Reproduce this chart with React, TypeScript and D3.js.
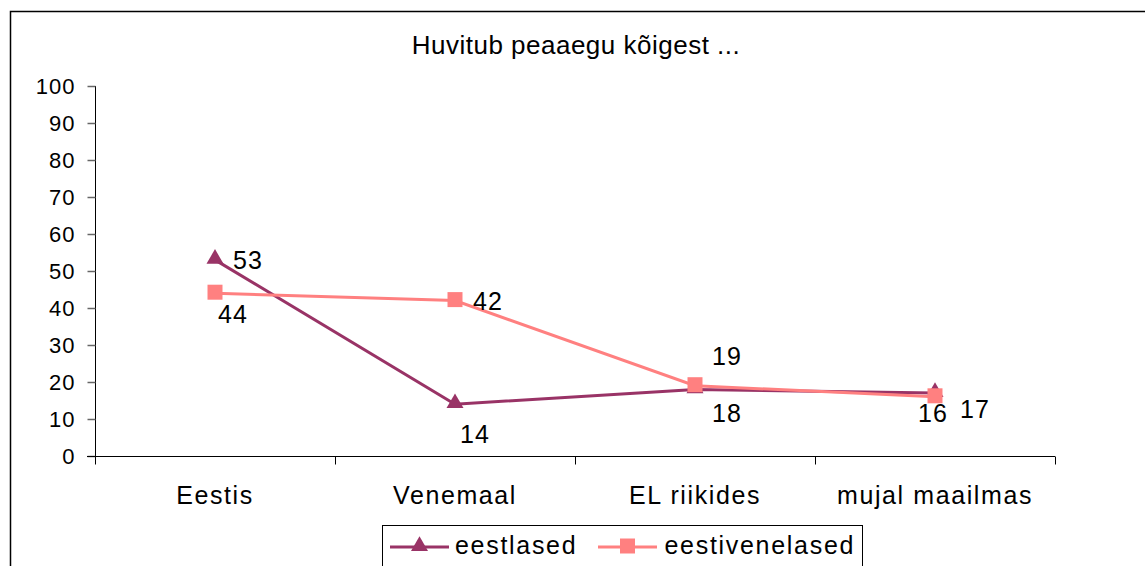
import React, { useRef, useEffect } from "react";
import * as d3 from "d3";

const categories = ["Eestis", "Venemaal", "EL riikides", "mujal maailmas"];
const seriesNames = ["eestlased", "eestivenelased"];
const eestlased = [53, 14, 18, 17];
const eestivenelased = [44, 42, 19, 16];
const yTicks = [0, 10, 20, 30, 40, 50, 60, 70, 80, 90, 100];
const title = "Huvitub peaaegu kõigest ...";

// where each value label sits relative to its point
const eestlasedLabelPos = ["right", "below", "belowRight", "farRight"];
const eestivenelasedLabelPos = ["belowNear", "right", "aboveRight", "belowLeft"];

const FONT = "'Liberation Sans', Arial, sans-serif";
const colors = ["#993366", "#FF8080"];

const App = () => {
	const ref = useRef(null);

	useEffect(() => {
		const svg = d3.select(ref.current);
		svg.selectAll("*").remove();

		const margin = { left: 95, right: 90, top: 85, bottom: 110 };
		const width = 1145,
			height = 566;

		// outer frame (runs past the right and bottom edges)
		svg.append("path")
			.attr("d", `M10.5,${height + 5} V11.5 H${width + 5}`)
			.attr("fill", "none")
			.attr("stroke", "#000")
			.attr("stroke-width", 1.5);

		svg.append("text")
			.attr("x", 576)
			.attr("y", 54)
			.attr("text-anchor", "middle")
			.style("font-family", FONT)
			.style("font-size", "26px")
			.style("letter-spacing", "0.5px")
			.text(title);

		const x = d3
			.scaleBand()
			.domain(categories)
			.range([margin.left, width - margin.right]);
		const y = d3
			.scaleLinear()
			.domain([0, 100])
			.range([height - margin.bottom, margin.top + 1]);

		const yAxis = svg
			.append("g")
			.attr("transform", `translate(${margin.left + 0.5},0)`)
			.call(d3.axisLeft(y).tickValues(yTicks).tickSize(8).tickPadding(12));
		yAxis.select(".domain").attr("stroke", "#000").attr("d", `M0,${y(100)}V${y(0)}`);
		yAxis.selectAll(".tick line").attr("stroke", "#666").attr("stroke-width", 1.5);
		yAxis
			.selectAll(".tick text")
			.attr("dy", "0.33em")
			.style("font-family", FONT)
			.style("font-size", "22px")
			.style("letter-spacing", "1px")
			.attr("fill", "#000");

		const xAxis = svg
			.append("g")
			.attr("transform", `translate(0,${y(0) + 0.5})`);
		xAxis.append("line")
			.attr("x1", margin.left - 8)
			.attr("x2", width - margin.right)
			.attr("stroke", "#000");
		const bounds = categories.map((c) => x(c)).concat([x.range()[1]]);
		xAxis.selectAll(".xt")
			.data(bounds)
			.join("line")
			.attr("x1", (d) => Math.round(d) + 0.5)
			.attr("x2", (d) => Math.round(d) + 0.5)
			.attr("y1", 0)
			.attr("y2", 8)
			.attr("stroke", "#000");
		xAxis.selectAll(".xl")
			.data(categories)
			.join("text")
			.attr("x", (d) => x(d) + x.bandwidth() / 2)
			.attr("y", 47)
			.attr("text-anchor", "middle")
			.style("font-family", FONT)
			.style("font-size", "25px")
			.style("letter-spacing", "1.6px")
			.text((d) => d);

		const cx = (i) => x(categories[i]) + x.bandwidth() / 2;
		const line = d3
			.line()
			.x((d, i) => cx(i))
			.y((d) => y(d));

		const offsets = {
			right: [18, 9],
			farRight: [25, 25],
			below: [5, 39],
			belowNear: [3, 30],
			belowRight: [17, 33],
			belowLeft: [-17, 25],
			aboveRight: [17, -21],
		};

		const triangle = d3.symbol().type(d3.symbolTriangle).size(125);
		const square = "M-7.5,-7.5H7.5V7.5H-7.5Z";
		const drawSeries = (vals, k, pos) => {
			const g = svg.append("g");
			g.append("path")
				.attr("d", line(vals))
				.attr("fill", "none")
				.attr("stroke", colors[k])
				.attr("stroke-width", 3);
			g.selectAll(".m")
				.data(vals)
				.join("path")
				.attr("transform", (d, i) => `translate(${cx(i)},${y(d) - 1})`)
				.attr("d", k === 0 ? triangle() : square)
				.attr("fill", colors[k]);
			g.selectAll(".l")
				.data(vals)
				.join("text")
				.attr("x", (d, i) => cx(i) + offsets[pos[i]][0])
				.attr("y", (d, i) => y(d) + offsets[pos[i]][1])
				.style("font-family", FONT)
				.style("font-size", "25px")
				.style("letter-spacing", "1px")
				.text((d) => d);
		};
		drawSeries(eestlased, 0, eestlasedLabelPos);
		drawSeries(eestivenelased, 1, eestivenelasedLabelPos);

		// legend
		const lg = svg.append("g").attr("transform", "translate(382.5,525.5)");
		lg.append("rect")
			.attr("width", 480)
			.attr("height", 60)
			.attr("fill", "#fff")
			.attr("stroke", "#000");
		const items = [
			{ x0: 7.5, tx: 72.5 },
			{ x0: 215.5, tx: 282 },
		];
		seriesNames.forEach((name, k) => {
			const it = items[k];
			lg.append("line")
				.attr("x1", it.x0)
				.attr("x2", it.x0 + 59)
				.attr("y1", 21.5)
				.attr("y2", 21.5)
				.attr("stroke", colors[k])
				.attr("stroke-width", 3);
			lg.append("path")
				.attr("transform", `translate(${it.x0 + 29.5},${20.5})`)
				.attr("d", k === 0 ? triangle() : square)
				.attr("fill", colors[k]);
			lg.append("text")
				.attr("x", it.tx)
				.attr("y", 28.5)
				.style("font-family", FONT)
				.style("font-size", "25px")
				.style("letter-spacing", "1.7px")
				.text(name);
		});
	}, []);

	return (
		<svg
			ref={ref}
			width={1145}
			height={566}
			style={{ position: "absolute", left: 0, top: 0, background: "#fff" }}
		/>
	);
};

export default App;
